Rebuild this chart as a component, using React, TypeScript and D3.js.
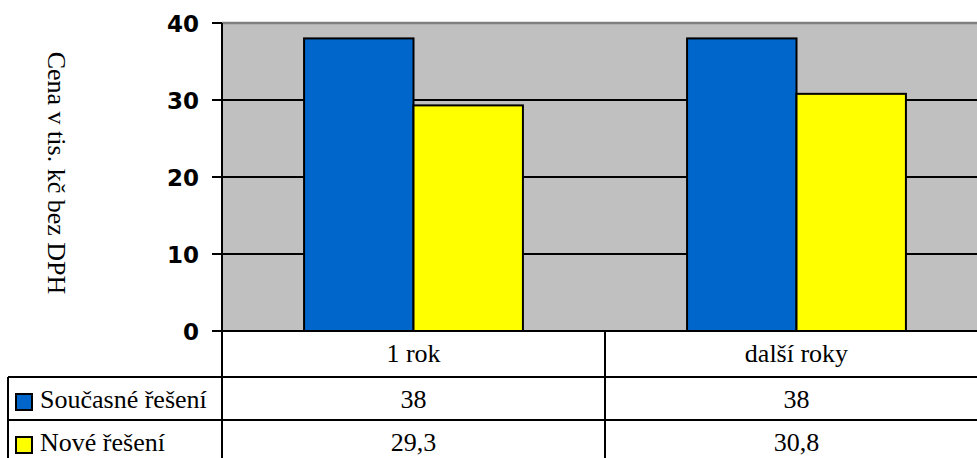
import React from 'react';
import * as d3 from 'd3';

const categories = ['1 rok', 'další roky'];
const seriesNames = ['Současné řešení', 'Nové řešení'];
const currentValues = [38, 38];
const newValues = [29.3, 30.8];
const valueLabels = [['38', '38'], ['29,3', '30,8']];
const yTicks = [0, 10, 20, 30, 40];
const colors = ['#0066CC', '#FFFF00'];

const serif = { fontFamily: "'Liberation Serif'", fontSize: 26 };
const sansBold = { fontFamily: "'DejaVu Sans'", fontSize: 23, fontWeight: 700 };

const App: React.FC = () => {
  const width = 977;
  const height = 458;
  const left = 222;
  const top = 23;
  const bottom = 331;
  const bandW = 383;

  const y = d3.scaleLinear().domain([0, 40]).range([bottom, top]);
  const x = d3.scaleBand<string>()
    .domain(categories)
    .range([left, left + bandW * categories.length])
    .paddingInner(0)
    .paddingOuter(0);
  const inner = d3.scaleBand<number>()
    .domain([0, 1])
    .range([0, x.bandwidth()])
    .paddingOuter(0.75)
    .paddingInner(0);

  const series = [currentValues, newValues];
  const rowTops = [377, 420];
  const baseOff = 31; // text baseline offset inside a table row

  return (
    <svg width={width} height={height} style={{ position: 'absolute', left: 0, top: 0 }}>
      <rect x={0} y={0} width={width} height={height} fill="#fff" />
      {/* plot background */}
      <rect x={left} y={top} width={width - left} height={bottom - top} fill="#C0C0C0" />
      <line x1={left} x2={width} y1={top} y2={top} stroke="#808080" strokeWidth={2.5} />

      {/* grid */}
      {yTicks.filter(t => t > 0 && t < 40).map(t => (
        <line key={`g-${t}`} x1={left} x2={width} y1={y(t)} y2={y(t)} stroke="#000" strokeWidth={2} />
      ))}

      {/* bars */}
      {categories.map((c, ci) => (
        <g key={c}>
          {series.map((s, si) => (
            <rect
              key={si}
              x={(x(c) ?? 0) + (inner(si) ?? 0)}
              y={y(s[ci])}
              width={inner.bandwidth()}
              height={bottom - y(s[ci])}
              fill={colors[si]}
              stroke="#000"
              strokeWidth={2}
            />
          ))}
        </g>
      ))}

      {/* y axis */}
      <line x1={left} x2={left} y1={top} y2={height} stroke="#000" strokeWidth={2} />
      {yTicks.map(t => (
        <g key={`t-${t}`}>
          <line x1={left - 10} x2={left} y1={y(t)} y2={y(t)} stroke="#000" strokeWidth={2} />
          <text x={199} y={y(t) + 9} textAnchor="end" style={sansBold} fill="#000">
            {t}
          </text>
        </g>
      ))}
      <line x1={left - 10} x2={width} y1={bottom} y2={bottom} stroke="#000" strokeWidth={2} />

      <text transform="translate(48, 173) rotate(90)" textAnchor="middle" style={serif} fill="#000">
        Cena v tis. kč bez DPH
      </text>

      {/* data table */}
      {categories.map((c, ci) => (
        <g key={`col-${c}`}>
          {ci > 0 && (
            <line x1={x(c)} x2={x(c)} y1={bottom} y2={height} stroke="#000" strokeWidth={2} />
          )}
          <text x={(x(c) ?? 0) + x.bandwidth() / 2} y={362} textAnchor="middle" style={serif} fill="#000">
            {c}
          </text>
          {valueLabels.map((row, ri) => (
            <text
              key={ri}
              x={(x(c) ?? 0) + x.bandwidth() / 2}
              y={rowTops[ri] + baseOff}
              textAnchor="middle"
              style={serif}
              fill="#000"
            >
              {row[ci]}
            </text>
          ))}
        </g>
      ))}
      {rowTops.map(rt => (
        <line key={`r-${rt}`} x1={8} x2={width} y1={rt} y2={rt} stroke="#000" strokeWidth={2} />
      ))}
      <line x1={8} x2={8} y1={rowTops[0]} y2={height} stroke="#000" strokeWidth={2} />
      {seriesNames.map((n, i) => (
        <g key={n}>
          <rect x={16} y={rowTops[i] + 17} width={16} height={16} fill={colors[i]} stroke="#000" strokeWidth={2} />
          <text x={40} y={rowTops[i] + baseOff} style={serif} fill="#000">
            {n}
          </text>
        </g>
      ))}
    </svg>
  );
};

export default App;
